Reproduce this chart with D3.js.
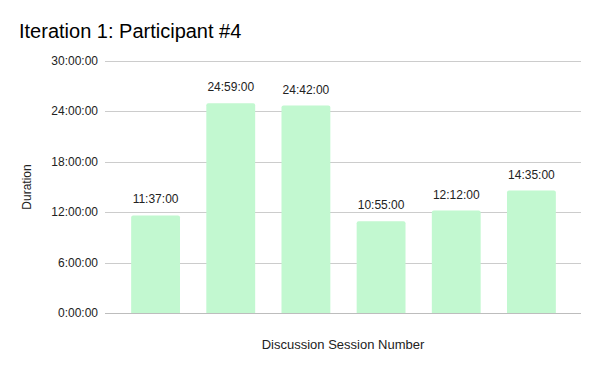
<!DOCTYPE html>
<html>
<head>
<meta charset="utf-8">
<script src="https://cdn.jsdelivr.net/npm/d3@7"></script>
<style>
  body { margin: 0; background: #fff; }
  text { font-family: "Liberation Sans", Arial, sans-serif; }
</style>
</head>
<body>
<svg id="chart" width="600" height="371"></svg>
<script>
// data
const sessions = ["1", "2", "3", "4", "5", "6"];
const durations = ["11:37:00", "24:59:00", "24:42:00", "10:55:00", "12:12:00", "14:35:00"];
const tickHours = [0, 6, 12, 18, 24, 30];

function toHours(s) {
    var p = s.split(":").map(Number);
    return p[0] + p[1] / 60 + p[2] / 3600;
}

const svg = d3.select("#chart");
const margin = {left: 105, right: 19, top: 61, bottom: 58};
const width = 600, height = 371;

var x = d3.scaleBand()
    .domain(sessions)
    .range([118, 569])
    .paddingInner(0.35)
    .paddingOuter(0.175);

var y = d3.scaleLinear()
    .domain([0, 30])
    .range([height - margin.bottom, margin.top]);

svg.append("text")
    .attr("x", 19)
    .attr("y", 38)
    .attr("font-size", 20)
    .attr("fill", "#000")
    .text("Iteration 1: Participant #4");

// gridlines + y ticks
var yAxis = svg.append("g");
tickHours.forEach(function(h) {
    yAxis.append("line")
        .attr("x1", margin.left).attr("x2", width - margin.right)
        .attr("y1", Math.round(y(h)) + 0.5).attr("y2", Math.round(y(h)) + 0.5)
        .attr("stroke", h === 0 ? "#bdbdbd" : "#cccccc")
        .attr("stroke-width", 1);
    yAxis.append("text")
        .attr("x", 98)
        .attr("y", y(h) + 4)
        .attr("text-anchor", "end")
        .attr("font-size", 12)
        .attr("fill", "#222")
        .text(h + ":00:00");
});

// bars
svg.append("g").selectAll("path")
    .data(durations)
    .join("path")
    .attr("fill", "#c2f8d0")
    .attr("d", function(d, i) {
        var x0 = x(sessions[i]), w = x.bandwidth();
        var y0 = y(toHours(d)), y1 = y(0), r = 2;
        return "M" + x0 + "," + y1 + "V" + (y0 + r) + "Q" + x0 + "," + y0 + " " + (x0 + r) + "," + y0 +
            "H" + (x0 + w - r) + "Q" + (x0 + w) + "," + y0 + " " + (x0 + w) + "," + (y0 + r) + "V" + y1 + "Z";
    });

// value labels
svg.append("g").selectAll("text")
    .data(durations)
    .join("text")
    .attr("x", (d, i) => x(sessions[i]) + x.bandwidth() / 2)
    .attr("y", d => y(toHours(d)) - 12)
    .attr("text-anchor", "middle")
    .attr("font-size", 12)
    .attr("fill", "#222")
    .text(d => d);

// axis titles
svg.append("text")
    .attr("transform", "translate(31,187) rotate(-90)")
    .attr("text-anchor", "middle")
    .attr("font-size", 12)
    .attr("fill", "#222")
    .text("Duration");

svg.append("text")
    .attr("x", 343)
    .attr("y", 349)
    .attr("text-anchor", "middle")
    .attr("font-size", 13)
    .attr("fill", "#222")
    .text("Discussion Session Number");
</script>
</body>
</html>
